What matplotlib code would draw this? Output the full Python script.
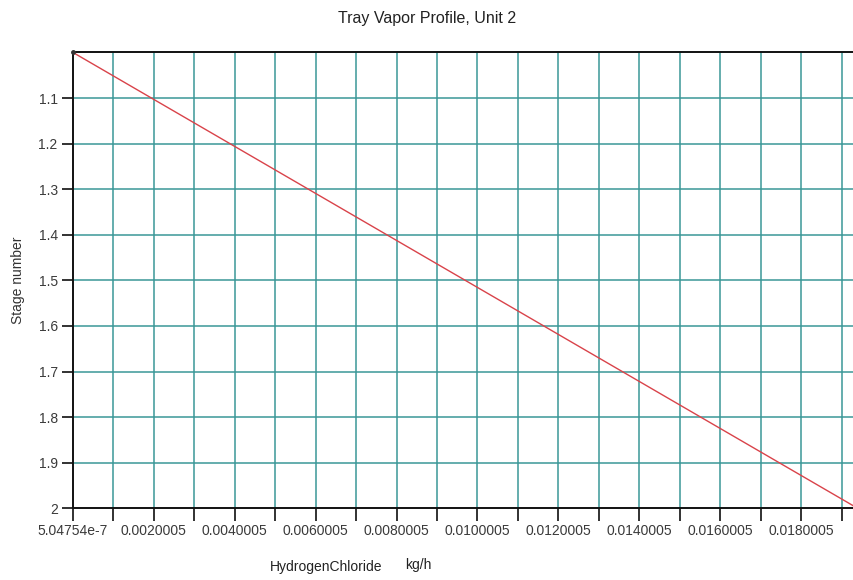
import matplotlib
matplotlib.use("Agg")
import matplotlib.pyplot as plt
import numpy as np

plt.rcParams['font.family'] = ['Liberation Sans', 'DejaVu Sans']

# Data
flow_kgh = [5.04754e-7, 0.0194]
stage = [1.0, 2.0]

x_start = 5.04754e-7
x_end_view = 0.01933
x_tick_step = 0.001
x_tick_count = 20
x_tick_labels = ["5.04754e-7", "", "0.0020005", "", "0.0040005", "", "0.0060005", "",
                 "0.0080005", "", "0.0100005", "", "0.0120005", "", "0.0140005", "",
                 "0.0160005", "", "0.0180005", ""]
y_ticks = [1.1, 1.2, 1.3, 1.4, 1.5, 1.6, 1.7, 1.8, 1.9, 2.0]
y_tick_labels = ["1.1", "1.2", "1.3", "1.4", "1.5", "1.6", "1.7", "1.8", "1.9", "2"]

fig = plt.figure(figsize=(8.54, 5.8), dpi=100)
ax = fig.add_axes([0.0855, 0.1236, 0.9155, 0.7859])

x_ticks = [x_start + k * x_tick_step for k in range(x_tick_count)]

grid_color = '#3a9797'
for xt in x_ticks[1:]:
    ax.axvline(xt, color=grid_color, lw=1.1, zorder=1)
for yt in y_ticks[:-1]:
    ax.axhline(yt, color=grid_color, lw=1.1, zorder=1)

ax.plot(flow_kgh, stage, color='#d9434a', lw=1.0, zorder=3)
ax.plot([flow_kgh[0]], [stage[0]], marker='o', ms=2.5, color='#333333', zorder=4, clip_on=False)

ax.set_xlim(x_start, x_end_view)
ax.set_ylim(2.0, 1.0)

ax.set_xticks(x_ticks)
ax.set_xticklabels(x_tick_labels)
ax.set_yticks(y_ticks)
ax.set_yticklabels(y_tick_labels)

ax.tick_params(axis='x', length=9, width=1.3, color='#222222', labelsize=10,
               labelcolor='#3a3a3a', pad=2, direction='out')
ax.tick_params(axis='y', length=8, width=1.3, color='#222222', labelsize=10,
               labelcolor='#3a3a3a', pad=3, direction='out')

for side in ['left', 'bottom', 'top']:
    ax.spines[side].set_color('#111111')
    ax.spines[side].set_linewidth(1.4)
ax.spines['right'].set_visible(False)

fig.text(0.5, 1 - 18 / 580, "Tray Vapor Profile, Unit 2", ha='center', va='center',
         fontsize=11.5, color='#222222')
fig.text(270 / 854, 1 - 567 / 580, "HydrogenChloride", ha='left', va='center',
         fontsize=10, color='#222222')
fig.text(405 / 854, 1 - 565 / 580, "kg/h", ha='left', va='center',
         fontsize=10, color='#222222')
fig.text(18 / 854, 1 - 280 / 580, "Stage number", ha='center', va='center',
         rotation=90, fontsize=10, color='#333333')

fig.savefig("out.png", dpi=100)
